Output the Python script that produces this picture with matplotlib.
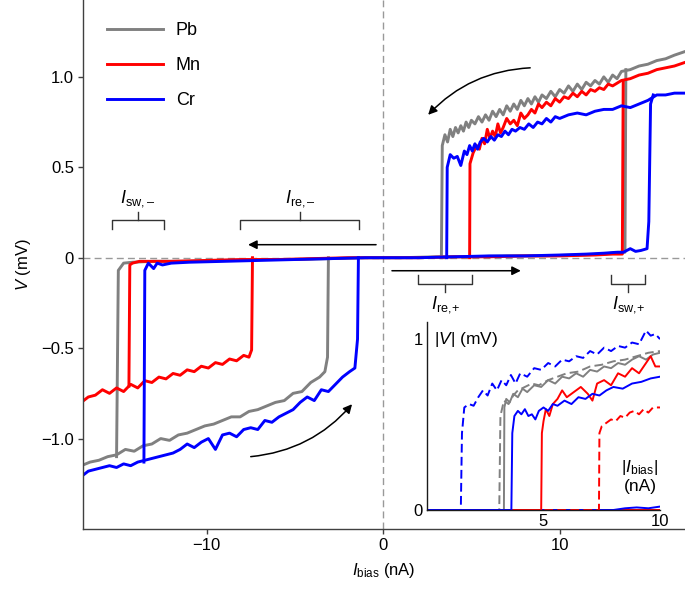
import matplotlib.pyplot as plt

plt.rcParams['font.family'] = ['Liberation Sans', 'DejaVu Sans']
plt.rcParams['mathtext.fontset'] = 'custom'
plt.rcParams['mathtext.rm'] = 'Liberation Sans'
plt.rcParams['mathtext.it'] = 'Liberation Sans:italic'
plt.rcParams['mathtext.bf'] = 'Liberation Sans:bold'

materials = ['Pb', 'Mn', 'Cr']
colors = ['#808080', '#ff0000', '#0000ff']

# ---- main panel -------------------------------------------------------
# zero-voltage branch, including the two switching jumps at its ends
pb_zero_I = [-15.1, -15.0, -14.7, -14.2, -13.0, -11.0, -9.0, -7.0, -5.0, -3.0, -1.0, 0.0,
             1.0, 3.0, 5.0, 7.0, 9.0, 11.0, 12.5, 13.3, 13.7, 13.75]
pb_zero_V = [-1.10, -0.07, -0.03, -0.025, -0.02, -0.02, -0.015, -0.01, -0.01, -0.005, 0.0, 0.0,
             0.0, 0.005, 0.005, 0.01, 0.01, 0.015, 0.02, 0.03, 0.03, 1.04]
mn_zero_I = [-14.4, -14.35, -14.2, -13.8, -12.0, -10.0, -8.0, -6.0, -4.0, -2.0, 0.0,
             2.0, 4.0, 6.0, 8.0, 10.0, 12.0, 13.0, 13.55, 13.6]
mn_zero_V = [-0.71, -0.04, -0.03, -0.02, -0.02, -0.015, -0.01, -0.01, -0.005, 0.0, 0.0,
             0.0, 0.005, 0.005, 0.01, 0.01, 0.015, 0.02, 0.02, 0.97]
cr_zero_I = [-13.55, -13.5, -13.3, -13.0, -12.8, -12.5, -12.0, -11.0, -9.0, -7.0, -5.0, -3.0, -1.0, 0.0,
             2.0, 4.0, 6.0, 8.0, 10.0, 11.5, 12.5, 13.2, 13.6, 14.0, 14.3, 14.6, 14.95, 15.05, 15.15, 15.3]
cr_zero_V = [-1.13, -0.07, -0.03, -0.06, -0.03, -0.04, -0.03, -0.025, -0.02, -0.015, -0.01, -0.005, 0.0, 0.0,
             0.0, 0.005, 0.01, 0.01, 0.015, 0.02, 0.025, 0.03, 0.03, 0.05, 0.035, 0.04, 0.05, 0.2, 0.85, 0.90]

# resistive branch on the positive side (return sweep, ends at I_re,+)
pb_up_I = [3.3, 3.35, 3.5, 3.65, 3.8, 3.95, 4.1, 4.25, 4.4, 4.55, 4.7, 4.85, 5.0, 5.2, 5.4, 5.6, 5.8, 6.0,
           6.2, 6.4, 6.6, 6.8, 7.0, 7.2, 7.4, 7.6, 7.8, 8.0, 8.2, 8.4, 8.6, 8.8, 9.0, 9.25,
           9.5, 9.75, 10.0, 10.25, 10.5, 10.75, 11.0, 11.25, 11.5, 11.75, 12.0, 12.25, 12.5, 12.75, 13.0,
           13.25, 13.5, 14.0, 14.5, 15.0, 15.5, 16.0, 16.5, 17.1]
pb_up_V = [0.0, 0.62, 0.68, 0.64, 0.71, 0.67, 0.72, 0.69, 0.73, 0.70, 0.75, 0.72, 0.76, 0.74, 0.78, 0.75, 0.79, 0.76,
           0.81, 0.78, 0.82, 0.79, 0.84, 0.81, 0.85, 0.82, 0.87, 0.84, 0.88, 0.85, 0.89, 0.86, 0.90, 0.88,
           0.92, 0.89, 0.93, 0.91, 0.95, 0.92, 0.96, 0.93, 0.97, 0.95, 0.98, 0.96, 1.00, 0.97, 1.01,
           0.99, 1.03, 1.04, 1.06, 1.07, 1.09, 1.10, 1.12, 1.14]
mn_up_I = [4.9, 4.92, 5.1, 5.3, 5.45, 5.6, 5.75, 5.9, 6.05, 6.2, 6.35, 6.5, 6.65, 6.8, 7.0, 7.2, 7.4, 7.6, 7.8,
           8.0, 8.2, 8.4, 8.6, 8.8, 9.0, 9.25, 9.5, 9.75, 10.0, 10.25, 10.5, 10.75,
           11.0, 11.25, 11.5, 11.75, 12.0, 12.25, 12.5, 12.75, 13.0, 13.5, 14.0, 14.5, 15.0, 15.5, 16.0, 16.5, 17.1]
mn_up_V = [0.0, 0.52, 0.58, 0.62, 0.60, 0.66, 0.63, 0.71, 0.66, 0.70, 0.67, 0.74, 0.69, 0.72, 0.77, 0.74, 0.76, 0.73, 0.80,
           0.77, 0.79, 0.82, 0.80, 0.85, 0.83, 0.86, 0.84, 0.88, 0.86, 0.89, 0.88, 0.91,
           0.89, 0.92, 0.90, 0.93, 0.92, 0.94, 0.93, 0.96, 0.95, 0.98, 0.99, 1.01, 1.02, 1.04, 1.05, 1.06, 1.08]
cr_up_I = [3.6, 3.63, 3.8, 4.0, 4.2, 4.4, 4.6, 4.75, 4.9, 5.05, 5.2, 5.35, 5.5, 5.7, 5.9, 6.1, 6.3, 6.5, 6.7, 6.9,
           7.1, 7.3, 7.5, 7.75, 8.0, 8.25, 8.5, 8.75, 9.0, 9.25,
           9.5, 9.75, 10.0, 10.5, 11.0, 11.5, 12.0, 12.5, 13.0, 13.5, 14.0, 14.5, 15.0, 15.5, 16.0, 16.5, 17.1]
cr_up_V = [0.0, 0.50, 0.57, 0.55, 0.56, 0.51, 0.59, 0.57, 0.62, 0.59, 0.63, 0.60, 0.64, 0.66, 0.64, 0.67, 0.65, 0.68, 0.67, 0.70,
           0.68, 0.71, 0.70, 0.72, 0.71, 0.74, 0.72, 0.75, 0.74, 0.77,
           0.75, 0.78, 0.77, 0.79, 0.80, 0.79, 0.81, 0.82, 0.82, 0.84, 0.83, 0.85, 0.87, 0.90, 0.90, 0.91, 0.91]

# resistive branch on the negative side (return sweep, ends at I_re,-)
pb_lo_I = [-17.1, -16.6, -16.1, -15.6, -15.1, -14.6, -14.1, -13.6, -13.1, -12.6, -12.1, -11.6, -11.1, -10.6,
           -10.1, -9.6, -9.1, -8.6, -8.1, -7.6, -7.1, -6.6, -6.1, -5.6, -5.1, -4.6, -4.1, -3.6, -3.3, -3.15, -3.1]
pb_lo_V = [-1.15, -1.13, -1.12, -1.10, -1.09, -1.06, -1.07, -1.04, -1.03, -1.00, -1.01, -0.98, -0.97, -0.95,
           -0.93, -0.92, -0.90, -0.88, -0.88, -0.85, -0.84, -0.82, -0.80, -0.79, -0.75, -0.74, -0.69, -0.66, -0.63, -0.55, 0.0]
mn_lo_I = [-17.1, -16.7, -16.3, -15.9, -15.5, -15.1, -14.7, -14.3, -13.9, -13.5, -13.1, -12.7, -12.3, -11.9,
           -11.5, -11.1, -10.7, -10.3, -9.9, -9.5, -9.1, -8.7, -8.3, -7.9, -7.6, -7.45, -7.4]
mn_lo_V = [-0.80, -0.77, -0.76, -0.73, -0.75, -0.72, -0.74, -0.70, -0.72, -0.68, -0.69, -0.66, -0.67, -0.64,
           -0.65, -0.62, -0.63, -0.60, -0.61, -0.58, -0.59, -0.56, -0.57, -0.54, -0.55, -0.51, 0.0]
cr_lo_I = [-17.1, -16.7, -16.3, -15.9, -15.5, -15.1, -14.7, -14.3, -13.9, -13.5, -13.1, -12.7, -12.3, -11.9,
           -11.5, -11.1, -10.7, -10.3, -9.9, -9.5, -9.1, -8.7, -8.3, -7.9, -7.5, -7.1, -6.7, -6.3, -5.9, -5.5,
           -5.1, -4.7, -4.3, -3.9, -3.5, -3.1, -2.7, -2.3, -1.9, -1.6, -1.45, -1.4]
cr_lo_V = [-1.21, -1.18, -1.17, -1.16, -1.15, -1.16, -1.14, -1.15, -1.13, -1.12, -1.11, -1.10, -1.09, -1.08,
           -1.06, -1.03, -1.05, -1.02, -1.00, -1.06, -0.98, -0.97, -0.99, -0.95, -0.94, -0.95, -0.90, -0.91, -0.88, -0.86,
           -0.84, -0.80, -0.77, -0.79, -0.73, -0.74, -0.70, -0.66, -0.63, -0.61, -0.45, 0.0]

# ---- inset: |V| vs |I_bias| on the return sweeps (solid: +, dashed: -) -----
ins_pb_pos_I = [0.0, 3.3, 3.32, 3.4, 3.55, 3.7, 3.9, 4.1, 4.3, 4.6, 4.9, 5.2, 5.5, 5.8, 6.1, 6.4, 6.7, 7.0,
                7.3, 7.6, 7.9, 8.2, 8.5, 8.8, 9.1, 9.4, 9.7, 10.0]
ins_pb_pos_V = [0.0, 0.0, 0.60, 0.65, 0.63, 0.68, 0.66, 0.71, 0.69, 0.73, 0.72, 0.76, 0.74, 0.78, 0.77, 0.80, 0.78, 0.82,
                0.81, 0.84, 0.83, 0.86, 0.85, 0.88, 0.90, 0.88, 0.91, 0.92]
ins_pb_neg_I = [0.0, 3.1, 3.15, 3.3, 3.5, 3.7, 3.9, 4.2, 4.5, 4.8, 5.2, 5.6, 6.0, 6.5, 7.0, 7.5, 8.0, 8.5, 9.0, 9.5, 10.0]
ins_pb_neg_V = [0.0, 0.0, 0.55, 0.64, 0.62, 0.67, 0.70, 0.72, 0.74, 0.73, 0.76, 0.78, 0.80, 0.81, 0.84, 0.85, 0.87,
                0.88, 0.90, 0.92, 0.93]
ins_mn_pos_I = [0.0, 4.9, 4.93, 5.0, 5.1, 5.25, 5.4, 5.6, 5.8, 6.0, 6.3, 6.6, 6.9, 7.1, 7.3, 7.6, 7.9, 8.2, 8.5,
                8.8, 9.1, 9.4, 9.6, 9.8, 10.0]
ins_mn_pos_V = [0.0, 0.0, 0.45, 0.52, 0.59, 0.55, 0.62, 0.65, 0.70, 0.66, 0.69, 0.72, 0.68, 0.64, 0.74, 0.76, 0.73,
                0.80, 0.78, 0.83, 0.80, 0.86, 0.90, 0.84, 0.84]
ins_mn_neg_I = [0.0, 7.38, 7.4, 7.5, 7.7, 7.9, 8.1, 8.3, 8.5, 8.7, 8.9, 9.1, 9.3, 9.5, 9.7, 10.0]
ins_mn_neg_V = [0.0, 0.0, 0.45, 0.49, 0.51, 0.53, 0.52, 0.55, 0.54, 0.57, 0.58, 0.56, 0.59, 0.57, 0.60, 0.60]
ins_cr_pos_I = [0.0, 3.62, 3.66, 3.75, 3.9, 4.05, 4.2, 4.35, 4.5, 4.65, 4.8, 5.0, 5.2, 5.4, 5.6, 5.9, 6.2, 6.5,
                6.8, 7.1, 7.4, 7.7, 8.0, 8.4, 8.8, 9.2, 9.6, 10.0]
ins_cr_pos_V = [0.0, 0.0, 0.45, 0.55, 0.58, 0.56, 0.59, 0.55, 0.56, 0.53, 0.58, 0.60, 0.58, 0.62, 0.61, 0.64, 0.62,
                0.66, 0.65, 0.68, 0.67, 0.70, 0.72, 0.71, 0.74, 0.75, 0.77, 0.78]
ins_cr_neg_I = [0.0, 1.45, 1.5, 1.6, 1.8, 2.0, 2.2, 2.4, 2.6, 2.8, 3.0, 3.2, 3.4, 3.6, 3.8, 4.0, 4.3, 4.6, 4.9,
                5.2, 5.5, 5.8, 6.1, 6.4, 6.7, 7.0, 7.3, 7.6, 7.9, 8.2, 8.5, 8.8, 9.1, 9.4, 9.6, 9.8, 10.0]
ins_cr_neg_V = [0.0, 0.0, 0.45, 0.60, 0.62, 0.61, 0.66, 0.70, 0.67, 0.74, 0.70, 0.76, 0.73, 0.79, 0.74, 0.80, 0.78,
                0.83, 0.82, 0.86, 0.84, 0.88, 0.87, 0.90, 0.89, 0.93, 0.91, 0.95, 0.93, 0.96, 0.95, 0.98, 0.97,
                1.05, 1.02, 1.03, 1.00]
# forward sweep (still superconducting) seen at the bottom of the inset
ins_fwd_I = [0.0, 8.0, 8.5, 9.0, 9.5, 10.0]
ins_fwd_V = [0.0, 0.0, 0.01, 0.015, 0.01, 0.02]

main_zero = [(pb_zero_I, pb_zero_V), (mn_zero_I, mn_zero_V), (cr_zero_I, cr_zero_V)]
main_up = [(pb_up_I, pb_up_V), (mn_up_I, mn_up_V), (cr_up_I, cr_up_V)]
main_lo = [(pb_lo_I, pb_lo_V), (mn_lo_I, mn_lo_V), (cr_lo_I, cr_lo_V)]
ins_pos = [(ins_pb_pos_I, ins_pb_pos_V), (ins_mn_pos_I, ins_mn_pos_V), (ins_cr_pos_I, ins_cr_pos_V)]
ins_neg = [(ins_pb_neg_I, ins_pb_neg_V), (ins_mn_neg_I, ins_mn_neg_V), (ins_cr_neg_I, ins_cr_neg_V)]

fig = plt.figure(figsize=(6.85, 5.9), dpi=100)
ax = fig.add_axes([0.1212, 0.1034, 0.8788, 0.8966])

ax.axhline(0, color='0.6', ls=(0, (5, 3)), lw=1.0, zorder=0)
ax.axvline(0, color='0.6', ls=(0, (5, 3)), lw=1.0, zorder=0)

for name, c, z, up, lo in zip(materials, colors, main_zero, main_up, main_lo):
    ax.plot(*z, color=c, lw=2.1, label=name, solid_joinstyle='round')
    ax.plot(*up, color=c, lw=2.1, solid_joinstyle='round')
    ax.plot(*lo, color=c, lw=2.1, solid_joinstyle='round')

ax.set_xlim(-17.0, 17.1)
ax.set_ylim(-1.5, 1.425)
ax.set_xticks([-10, 0, 10])
ax.set_xticklabels(['\u221210', '0', '10'])
ax.set_yticks([-1.0, -0.5, 0, 0.5, 1.0])
ax.set_yticklabels(['\u22121.0', '\u22120.5', '0', '0.5', '1.0'])
ax.tick_params(labelsize=12, length=3.5, width=1.0, pad=3, color='0.25')
for s in ['top', 'right']:
    ax.spines[s].set_visible(False)
for s in ['left', 'bottom']:
    ax.spines[s].set_color('0.25')
    ax.spines[s].set_linewidth(1.0)
ax.set_xlabel(r'$I_{\rm bias}$ (nA)', fontsize=12, labelpad=6)
ax.set_ylabel(r'$V$ (mV)', fontsize=12, labelpad=6)

ax.legend(loc='upper left', bbox_to_anchor=(0.04, 0.958), frameon=False, fontsize=13,
          handlelength=3.1, handletextpad=0.7, labelspacing=1.0, borderpad=0, borderaxespad=0)

# brackets marking switching / retrapping current ranges
def bracket(x0, x1, y, tip, up_ends=False):
    end = 0.05 if up_ends else -0.05
    ax.plot([x0, x0, x1, x1], [y + end, y, y, y + end], color='0.2', lw=1.0)
    xm = (x0 + x1) / 2
    ax.plot([xm, xm], [y, y + tip], color='0.2', lw=1.0)

bracket(-15.35, -12.4, 0.21, 0.045)
bracket(-8.1, -1.36, 0.21, 0.045)
bracket(2.0, 5.05, -0.144, -0.045, up_ends=True)
bracket(12.9, 14.85, -0.144, -0.045, up_ends=True)

ax.text(-13.9, 0.27, '$I_{\\rm sw,\u2013}$', fontsize=13, ha='center', va='bottom')
ax.text(-4.7, 0.27, '$I_{\\rm re,\u2013}$', fontsize=13, ha='center', va='bottom')
ax.text(3.5, -0.20, '$I_{\\rm re,\\!{+}}$', fontsize=13, ha='center', va='top')
ax.text(13.9, -0.20, '$I_{\\rm sw,\\!{+}}$', fontsize=13, ha='center', va='top')

# sweep direction arrows
arrow = dict(arrowstyle='-|>', color='black', lw=1.1, mutation_scale=13, shrinkA=0, shrinkB=0)
ax.annotate('', xy=(-7.65, 0.072), xytext=(-0.4, 0.072), arrowprops=arrow)
ax.annotate('', xy=(7.8, -0.072), xytext=(0.5, -0.072), arrowprops=arrow)
ax.annotate('', xy=(2.55, 0.79), xytext=(8.33, 1.05),
            arrowprops=dict(arrow, connectionstyle='arc3,rad=0.2'))
ax.annotate('', xy=(-1.76, -0.81), xytext=(-7.5, -1.10),
            arrowprops=dict(arrow, connectionstyle='arc3,rad=0.2'))

# inset
ins = fig.add_axes([0.6234, 0.1356, 0.3401, 0.3186])
ins.patch.set_alpha(0)
for c in colors:
    ins.plot(ins_fwd_I if c == '#0000ff' else [0.0, 10.0],
             ins_fwd_V if c == '#0000ff' else [0.0, 0.0], color=c, lw=1.4)
for c, p, n in zip(colors, ins_pos, ins_neg):
    ins.plot(*n, color=c, lw=1.4, ls=(0, (4.5, 2.2)))
    ins.plot(*p, color=c, lw=1.4)
ins.set_xlim(0, 10)
ins.set_ylim(0, 1.1)
ins.set_xticks([5, 10])
ins.set_yticks([0, 1])
ins.tick_params(labelsize=12, length=0, pad=3)
for s in ['top', 'right']:
    ins.spines[s].set_visible(False)
for s in ['left', 'bottom']:
    ins.spines[s].set_color('0.1')
    ins.spines[s].set_linewidth(1.0)
ins.text(0.3, 1.0, r'$|V|$ (mV)', fontsize=12.5, ha='left', va='center')
ins.text(9.14, 0.2, r'$|I_{\rm bias}|$' + '\n(nA)', fontsize=12.5, ha='center', va='center',
         multialignment='center')

fig.savefig('out.png', dpi=100)
